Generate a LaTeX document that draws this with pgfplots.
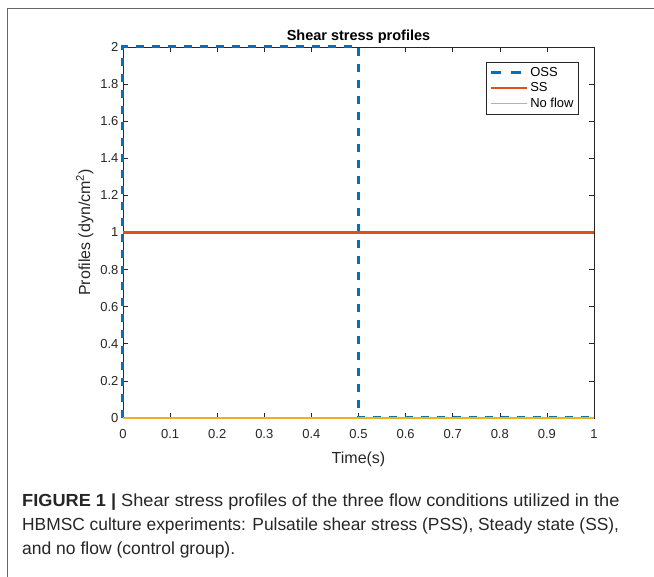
\documentclass[border=0pt]{standalone}
\usepackage{fontspec}
\setmainfont{Liberation Sans}
\usepackage{pgfplots}
\pgfplotsset{compat=1.18}
\definecolor{mblue}{rgb}{0,0.447,0.741}
\definecolor{morange}{rgb}{0.85,0.325,0.098}
\definecolor{myellow}{rgb}{0.929,0.694,0.125}
\definecolor{axgray}{rgb}{0.15,0.15,0.15}
\definecolor{framegray}{rgb}{0.4,0.4,0.4}
\begin{document}
\begin{tikzpicture}[x=1pt,y=1pt]
\path[use as bounding box] (0,0) rectangle (654,577);
\draw[framegray, line width=1.5pt] (7.5,0) -- (7.5,568.5) -- (654,568.5);
\begin{axis}[
  at={(123pt,159pt)}, anchor=south west,
  scale only axis, width=471pt, height=371pt,
  xmin=0, xmax=1, ymin=0, ymax=2,
  clip=false,
  xtick={0,0.1,0.2,0.3,0.4,0.5,0.6,0.7,0.8,0.9,1},
  ytick={0,0.2,0.4,0.6,0.8,1,1.2,1.4,1.6,1.8,2},
  tick align=inside, major tick length=5pt,
  axis line style={axgray, line width=0.6pt},
  every tick/.style={axgray, line width=0.6pt},
  tick label style={font=\fontsize{13}{15}\selectfont, text=axgray},
  /pgf/number format/assume math mode=true,
  xticklabel style={yshift=-8pt},
  yticklabel style={xshift=-1pt},
  title={\bfseries Shear stress profiles},
  title style={font=\fontsize{14.5}{16}\selectfont, yshift=-6pt},
  xlabel={Time(s)},
  xlabel style={yshift=-6pt},
  ylabel={Profiles (dyn/cm\textsuperscript{2})},
  label style={font=\fontsize{16}{18}\selectfont, text=axgray},
  legend style={at={(0.968,0.96)}, anchor=north east, draw=axgray, line width=0.6pt,
    font=\fontsize{13}{15}\selectfont, row sep=3pt, column sep=0pt, inner xsep=3pt, inner ysep=4pt,
    nodes={inner xsep=2pt, inner ysep=1pt}},
  legend cell align=left,
  legend image code/.code={\draw[#1] (0pt,0pt) -- (33pt,0pt); \path (0pt,0pt) -- (36pt,0pt);},
]
\addplot[mblue, line width=3pt, dash pattern=on 8pt off 8pt, forget plot] coordinates {(0,0) (0,2) (0.5,2) (0.5,0) (1,0)};
\addplot[morange, line width=2.8pt, forget plot] coordinates {(0,1) (1,1)};
\addplot[myellow, line width=1.3pt, forget plot] coordinates {(0,0) (1,0)};
\addlegendimage{draw=mblue, line width=3pt, dash pattern=on 10pt off 10pt}
\addlegendentry{OSS}
\addlegendimage{draw=morange, line width=2.8pt}
\addlegendentry{SS}
\addlegendimage{draw=myellow, line width=1.5pt}
\addlegendentry{No flow}
\end{axis}
\begin{scope}[every node/.style={anchor=base west, inner sep=0pt, font=\fontsize{17.5}{20}\selectfont, text=black!85}]
\node at (22,70) {\scalebox{1.039}[1]{\textbf{FIGURE 1 |} Shear stress profiles of the three flow conditions utilized in the}};
\node at (22,46) {\scalebox{0.992}[1]{HBMSC culture experiments: Pulsatile shear stress (PSS), Steady state (SS),}};
\node at (22,22) {and no flow (control group).};
\end{scope}
\end{tikzpicture}
\end{document}
